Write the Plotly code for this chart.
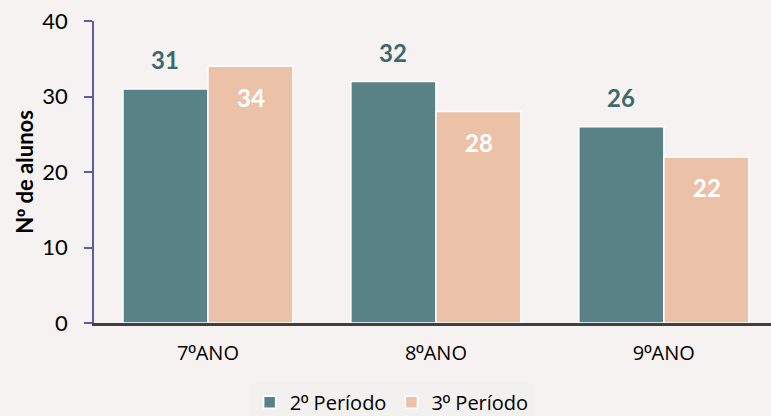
import plotly.graph_objects as go

categories = ["7ºANO", "8ºANO", "9ºANO"]
periodo2 = [31, 32, 26]
periodo3 = [34, 28, 22]
series_names = ["2º Período", "3º Período"]
y_ticks = [0, 10, 20, 30, 40]
y_title = "Nº de alunos"

TEAL = "#588285"
PEACH = "#EBC1A7"
BG = "#F7F2F2"
LABEL_FONT = "Lato, Open Sans, sans-serif"


def ordinal(s):
    # render the ordinal indicator with an underlined glyph, as in the original
    return s.replace("º", '<span style="font-family:Liberation Sans">º</span>')


fig = go.Figure()
fig.add_trace(go.Bar(x=categories, y=periodo2, name=ordinal(series_names[0]),
                     marker=dict(color=TEAL, line=dict(color="white", width=1.5))))
fig.add_trace(go.Bar(x=categories, y=periodo3, name=ordinal(series_names[1]),
                     marker=dict(color=PEACH, line=dict(color="white", width=1.5))))

# data labels
for i, c in enumerate(categories):
    fig.add_annotation(x=c, y=periodo2[i], xshift=-43, yshift=29, text=f"<b>{periodo2[i]}</b>",
                       showarrow=False, yanchor="middle",
                       font=dict(family=LABEL_FONT, size=24, color="#3B6A6E"))
    fig.add_annotation(x=c, y=periodo3[i], xshift=43, yshift=-31, text=f"<b>{periodo3[i]}</b>",
                       showarrow=False, yanchor="middle",
                       font=dict(family=LABEL_FONT, size=24, color="white"))

fig.update_layout(
    width=771, height=416,
    paper_bgcolor=BG, plot_bgcolor=BG,
    margin=dict(l=94, r=0, t=21, b=93, autoexpand=False),
    barmode="group", bargap=0.254, bargroupgap=0,
    font=dict(family=LABEL_FONT, color="black"),
    showlegend=True,
    legend=dict(orientation="h", xref="container", x=0.508, xanchor="center",
                y=-0.198, yanchor="top", bgcolor="#F2F1EF",
                font=dict(family="Open Sans, sans-serif", size=20, color="black"),
                itemwidth=30, traceorder="normal"),
    xaxis=dict(range=[-0.5, 2.47], showline=True, linecolor="#404040", linewidth=3,
               ticks="", tickmode="array", tickvals=categories,
               ticktext=[ordinal(c) for c in categories],
               ticklabelstandoff=10,
               tickfont=dict(family="Open Sans, sans-serif", size=20, color="black"),
               showgrid=False, zeroline=False),
    yaxis=dict(range=[0, 40], tickvals=y_ticks, showline=True, linecolor="#5B5EA6", linewidth=1.5,
               ticks="outside", ticklen=8, tickcolor="#5B5EA6", tickwidth=1.5,
               ticklabelstandoff=12,
               tickfont=dict(family="Lato, sans-serif", size=22, color="black"),
               showgrid=False, zeroline=False,
               title=dict(text=f"<b>{ordinal(y_title)}</b>", standoff=3,
                          font=dict(family="Lato, sans-serif", size=22, color="black"))),
)

fig.write_html("out.html", config={"displayModeBar": False},
               post_script="document.body.style.margin='0';")
